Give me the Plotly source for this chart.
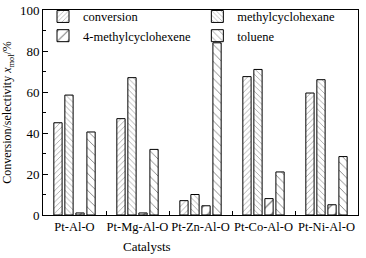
import plotly.graph_objects as go

categories = ["Pt-Al-O", "Pt-Mg-Al-O", "Pt-Zn-Al-O", "Pt-Co-Al-O", "Pt-Ni-Al-O"]
conversion = [45, 47, 7, 67.5, 59.5]
methylcyclohexane = [58.5, 67, 10, 71, 66]
methylcyclohexene = [1, 1, 4.5, 8, 5]
toluene = [40.5, 32, 84, 21, 28.5]

series = [
    ("conversion", conversion, "/", 4, "legend"),
    ("methylcyclohexane", methylcyclohexane, "\\", 4, "legend2"),
    ("4-methylcyclohexene", methylcyclohexene, "/", 9, "legend"),
    ("toluene", toluene, "\\", 6, "legend2"),
]

fig = go.Figure()
for name, vals, shape, size, leg in series:
    fig.add_trace(go.Bar(
        x=categories, y=vals, name=name, legend=leg,
        marker=dict(color="white", line=dict(color="black", width=1),
                    pattern=dict(shape=shape, size=size, solidity=0.15, fgcolor="black", bgcolor="white")),
    ))

fam = "Liberation Serif, Times New Roman, serif"
legstyle = dict(orientation="v", y=1.04, xanchor="left", yanchor="top",
                font=dict(family=fam, size=12.5), bgcolor="rgba(0,0,0,0)",
                tracegroupgap=0, traceorder="normal")
fig.update_layout(
    width=366, height=258,
    margin=dict(l=43, r=8, t=10, b=43, autoexpand=False),
    paper_bgcolor="white", plot_bgcolor="white",
    font=dict(family=fam, size=12, color="black"),
    barmode="group", bargap=0.3, bargroupgap=0.25,
    showlegend=True,
    legend=dict(x=0.0, **legstyle),
    legend2=dict(x=0.49, **legstyle),
    xaxis=dict(showline=True, linecolor="black", linewidth=1, mirror=True,
               ticks="inside", tickson="boundaries", ticklen=4, tickcolor="black",
               tickangle=0, tickfont=dict(size=12.5), automargin=False, showgrid=False),
    yaxis=dict(range=[0, 100], showline=True, linecolor="black", linewidth=1, mirror=True,
               ticks="inside", ticklen=5, tickcolor="black", dtick=20,
               tickfont=dict(size=13), automargin=False,
               minor=dict(ticks="inside", ticklen=3, dtick=10, tickcolor="black"),
               showgrid=False, zeroline=False,
               title=dict(text="Conversion/selectivity <i>x</i><sub>mol</sub>/%", standoff=5,
                          font=dict(size=12))),
    annotations=[dict(text="Catalysts", xref="paper", yref="paper", x=0.33, y=-0.155,
                      xanchor="center", yanchor="middle", showarrow=False,
                      font=dict(family=fam, size=13))],
)
fig.write_html("out.html", config={"displayModeBar": False},
               post_script="document.body.style.margin='0';")
